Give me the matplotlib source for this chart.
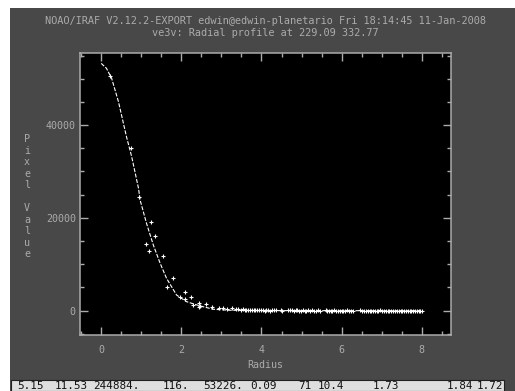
import matplotlib
matplotlib.use("Agg")
import matplotlib.pyplot as plt
from matplotlib.patches import Rectangle
from matplotlib.ticker import MultipleLocator

# ---- data ----
curve_r = [0.0, 0.13, 0.26, 0.43, 0.63, 0.76, 0.93, 0.97, 1.13, 1.30, 1.47, 1.63,
           1.88, 2.13, 2.47, 2.80, 3.20, 4.00, 5.00, 6.00, 7.00, 8.00]
curve_v = [53300, 52240, 50080, 45040, 37500, 33190, 26380, 23860, 18840, 14160, 10220, 6980,
           3380, 1940, 1010, 300, 100, 20, 0, 0, 0, 0]

core_r = [0.22, 0.74, 0.95, 1.11, 1.20, 1.23, 1.34, 1.53, 1.63, 1.78, 1.97, 2.08, 2.10,
          2.23, 2.28, 2.43, 2.45, 2.47, 2.62, 2.76, 2.95, 3.05, 3.15, 3.26, 3.36]
core_v = [50600, 35000, 24600, 14300, 12870, 19050, 16100, 11790, 5170, 6980, 2890, 3960, 2520,
          2890, 1230, 860, 1720, 1080, 1520, 860, 520, 520, 350, 520, 300]

tail_r = [3.42, 3.48, 3.53, 3.58, 3.62, 3.67, 3.72, 3.76, 3.81, 3.85,
          3.90, 3.94, 3.99, 4.03, 4.08, 4.12, 4.17, 4.21, 4.26, 4.31,
          4.36, 4.48, 4.52, 4.66, 4.71, 4.75, 4.80, 4.85, 4.89, 4.93,
          4.98, 5.03, 5.08, 5.12, 5.17, 5.21, 5.26, 5.30, 5.35, 5.40,
          5.45, 5.60, 5.64, 5.68, 5.73, 5.77, 5.82, 5.86, 5.91, 5.95,
          6.00, 6.04, 6.09, 6.14, 6.18, 6.23, 6.28, 6.47, 6.52, 6.56,
          6.61, 6.65, 6.70, 6.74, 6.79, 6.83, 6.88, 6.92, 6.97, 7.01,
          7.06, 7.10, 7.15, 7.19, 7.24, 7.28, 7.33, 7.38, 7.42, 7.47,
          7.51, 7.56, 7.60, 7.65, 7.70, 7.74, 7.79, 7.83, 7.88, 7.92,
          7.96, 8.00]
tail_v = [260, 180, 310, 150, 220, 90, 160, 240, 70, 130,
          180, 60, 110, 150, 40, 90, 130, 20, 80, 60,
          100, 120, 30, 70, 140, 50, 20, 90, 60, 10,
          40, 80, 30, -20, 60, 20, 50, -10, 40, 70,
          30, 60, 10, 40, -30, 20, 50, 0, 30, 10,
          40, -10, 20, 50, 0, 30, 10, 60, 20, -20,
          30, 10, 40, 0, 20, -10, 30, 10, 50, 0,
          20, -20, 10, 30, 0, 40, -10, 20, 10, 0,
          30, -10, 20, 0, 10, 40, -20, 10, 20, 0,
          10, 0]

title_lines = ["NOAO/IRAF V2.12.2-EXPORT edwin@edwin-planetario Fri 18:14:45 11-Jan-2008",
               "ve3v: Radial profile at 229.09 332.77"]
x_label = "Radius"
y_label = "Pixel Value"
status_tokens = ["5.15", "11.53", "244884.", "116.", "53226.", "0.09", "71", "10.4",
                 "1.73", "1.84", "1.72"]
status_x = [17, 55, 93, 163, 203, 250, 298, 318, 373, 447, 477]

# ---- styling ----
W, H = 515, 391
BG = "#484848"
FG = "#ababab"
MONO = "DejaVu Sans Mono"

fig = plt.figure(figsize=(W / 100, H / 100), dpi=100, facecolor="white")

def fx(px):
    return px / W

def fy(py):
    return 1 - py / H

# gray panel
fig.patches.append(Rectangle((fx(10), 0), 1 - fx(10), fy(8), transform=fig.transFigure,
                             facecolor=BG, edgecolor="none", zorder=-10))
# status bar
fig.patches.append(Rectangle((fx(11), 0), fx(504) - fx(11), fy(380), transform=fig.transFigure,
                             facecolor="#dedede", edgecolor="#202020", linewidth=0.8, zorder=-5))
for tok, xp in zip(status_tokens, status_x):
    fig.text(fx(xp), fy(386), tok, family=MONO, fontsize=7.9, color="#111111",
             ha="left", va="center")

ax = fig.add_axes([fx(80), fy(335), fx(451) - fx(80), fy(53) - fy(335)])
ax.set_facecolor("black")
for s in ax.spines.values():
    s.set_color(FG)
    s.set_linewidth(1.1)

ax.plot(curve_r, curve_v, color="white", linewidth=0.8, dashes=(3.6, 1.4))
ax.plot(core_r + tail_r, core_v + tail_v, linestyle="none", marker="+", markersize=3.2,
        markeredgewidth=0.8, color="white")

ax.set_xlim(-0.53, 8.73)
ax.set_ylim(-5240, 55540)
ax.xaxis.set_major_locator(MultipleLocator(2))
ax.xaxis.set_minor_locator(MultipleLocator(0.5))
ax.yaxis.set_major_locator(MultipleLocator(20000))
ax.yaxis.set_minor_locator(MultipleLocator(5000))
ax.tick_params(which="both", direction="in", top=True, right=True, color=FG,
               labelcolor=FG, labelsize=7.2, width=1.0)
ax.tick_params(which="major", length=6)
ax.tick_params(which="minor", length=3.2)
ax.tick_params(axis="x", pad=7)
ax.tick_params(axis="y", pad=3)
for lab in ax.get_xticklabels() + ax.get_yticklabels():
    lab.set_family(MONO)

cx = (fx(80) + fx(451)) / 2
fig.text(cx, fy(21.5), title_lines[0], family=MONO, fontsize=7.4, color=FG, ha="center", va="center")
fig.text(cx, fy(32.5), title_lines[1], family=MONO, fontsize=7.4, color=FG, ha="center", va="center")
fig.text(cx, fy(365.5), x_label, family=MONO, fontsize=7.2, color=FG, ha="center", va="center")

for i, ch in enumerate(y_label):
    if ch != " ":
        fig.text(fx(27), fy(139.5 + i * 11.45), ch, family=MONO, fontsize=7.2, color=FG,
                 ha="center", va="center")

fig.savefig("out.png", dpi=100, facecolor=fig.get_facecolor())
